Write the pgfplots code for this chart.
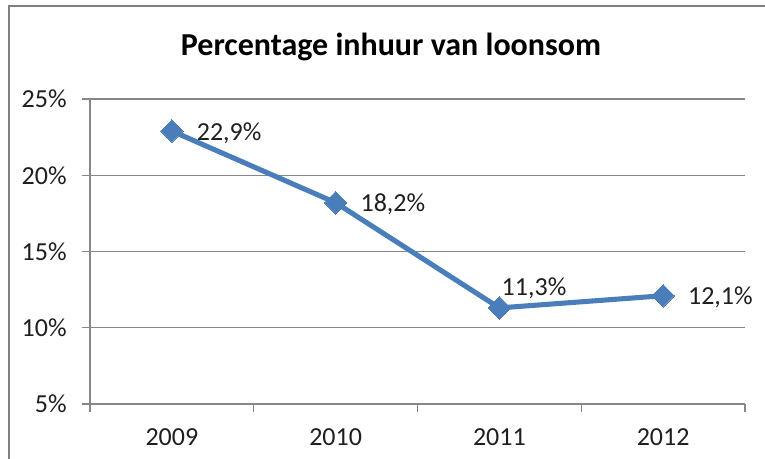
\documentclass[border=0pt]{standalone}
\usepackage{fontspec}
\setmainfont{Carlito}
\usepackage{pgfplots}
\pgfplotsset{compat=1.18}
\definecolor{lineblue}{RGB}{74,126,187}
\definecolor{gridgray}{RGB}{134,134,134}
\definecolor{framegray}{RGB}{128,128,128}

\begin{document}
\begin{tikzpicture}[x=0.75pt,y=0.75pt]
\useasboundingbox (0,0) rectangle (765,459);
% chart frame (only left and top edges show in the crop)
\draw[framegray,line width=1.5pt] (9,-5) -- (9,452.5) -- (770,452.5);
\node[font=\fontsize{24}{28}\selectfont\bfseries] at (391,412) {Percentage inhuur van loonsom};
\begin{axis}[
  at={(67.5pt,41.25pt)},anchor=south west,
  scale only axis,width=491.25pt,height=228.75pt,
  xmin=-0.5,xmax=3.5,ymin=5,ymax=25,
  xtick={0,1,2,3},xticklabels={2009,2010,2011,2012},
  minor xtick={-0.5,0.5,1.5,2.5,3.5},
  ytick={5,10,15,20,25},
  yticklabel={\pgfmathprintnumber{\tick}\%},
  axis lines*=left,axis line style={draw=gridgray,line width=0.9pt,-},
  ymajorgrids,grid style={draw=gridgray,line width=0.9pt},
  tick align=outside,
  major tick length=6pt,minor tick length=6pt,
  every tick/.style={draw=gridgray,line width=0.9pt},
  major x tick style={draw=none},
  tick label style={font=\fontsize{19.5}{23}\selectfont,text=black!88},
  yticklabel style={xshift=-8pt},
  xticklabel style={yshift=-9pt},
  /pgf/number format/assume math mode=true,
  clip=false,
  nodes near coords={\pgfmathprintnumber[fixed,precision=1,fixed zerofill,use comma]{\pgfplotspointmeta}\%},
  point meta=y,
  every node near coord/.style={font=\fontsize{19.5}{23}\selectfont,text=black!88,anchor=west,inner sep=0pt,xshift=18.75pt,yshift=-1.5pt},
]
\addplot[color=lineblue,line width=3.8pt,mark=square*,mark size=6pt,
  mark options={fill=lineblue,draw=lineblue,line width=0pt,rotate=45},
  coordinate style/.condition={\coordindex==2}{xshift=-17pt,yshift=16.5pt}]
  coordinates {(0,22.9) (1,18.2) (2,11.3) (3,12.1)};
\end{axis}
\end{tikzpicture}
\end{document}
